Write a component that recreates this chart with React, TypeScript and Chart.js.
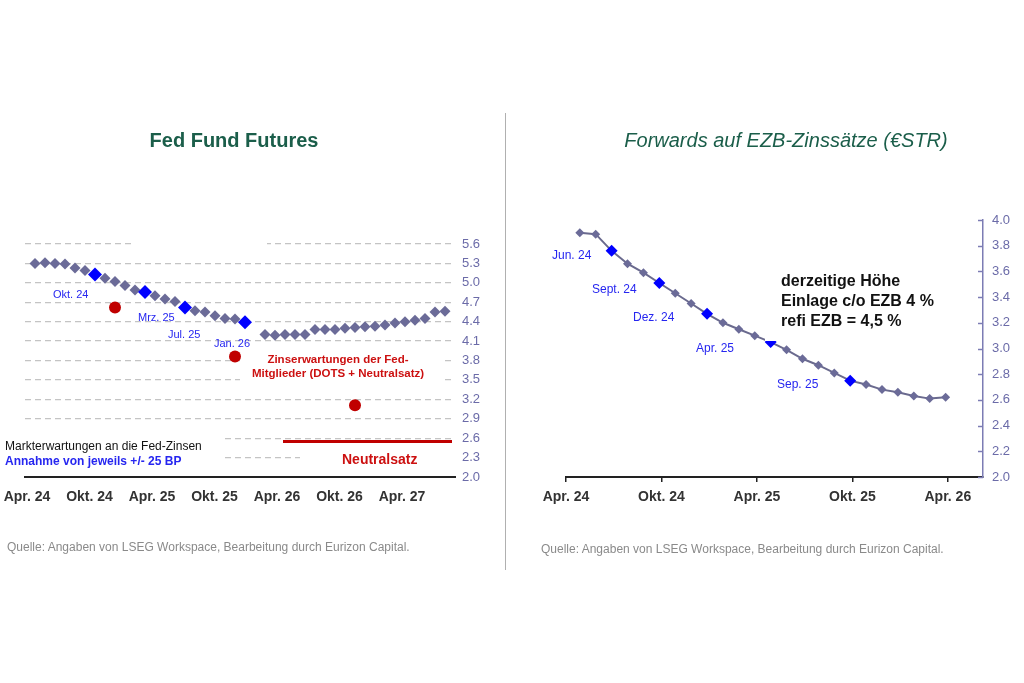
import React, { useEffect, useRef } from "react";
import { Chart, registerables } from "chart.js";
Chart.register(...registerables);

const FONT = 'Arial, "Liberation Sans", Helvetica, sans-serif';
Chart.defaults.font.family = FONT;

const GREEN = "#1b5e4a";
const BLUE = "#0000ff";
const LABEL_BLUE = "#2626f0";
const GRAY_PT = "#6b6b98";
const RED = "#c00000";
const AXIS_LBL = "#6b6ba8";

// ---------- Fed Fund Futures (left panel) ----------
const fedMonthLabels = [
  "Apr. 24", "Mai 24", "Jun. 24", "Jul. 24", "Aug. 24", "Sep. 24", "Okt. 24", "Nov. 24", "Dez. 24",
  "Jan. 25", "Feb. 25", "Mrz. 25", "Apr. 25", "Mai 25", "Jun. 25", "Jul. 25", "Aug. 25", "Sep. 25",
  "Okt. 25", "Nov. 25", "Dez. 25", "Jan. 26", "Feb. 26", "Mrz. 26", "Apr. 26", "Mai 26", "Jun. 26",
  "Jul. 26", "Aug. 26", "Sep. 26", "Okt. 26", "Nov. 26", "Dez. 26", "Jan. 27", "Feb. 27", "Mrz. 27",
  "Apr. 27", "Mai 27", "Jun. 27", "Jul. 27", "Aug. 27", "Sep. 27",
];
const fedFutures = [
  5.30, 5.31, 5.30, 5.29, 5.23, 5.19, 5.13, 5.07, 5.02, 4.96, 4.89, 4.86, 4.80, 4.75, 4.71, 4.62,
  4.57, 4.55, 4.49, 4.45, 4.44, 4.39, null, 4.20, 4.19, 4.20, 4.20, 4.20, 4.28, 4.28, 4.28, 4.30,
  4.31, 4.32, 4.33, 4.35, 4.38, 4.40, 4.42, 4.45, 4.55, 4.56,
];
const fedHighlightIdx = [6, 11, 15, 21];
const fedDotIdx = [8, 20, 32];
const fedDotValues = [4.62, 3.86, 3.11];
const fedNeutralValue = 2.55;
const fedNeutralRange = [24.8, 41.7];
const fedTickMonths = [0, 6, 12, 18, 24, 30, 36];
const fedTickLabels = ["Apr. 24", "Okt. 24", "Apr. 25", "Okt. 25", "Apr. 26", "Okt. 26", "Apr. 27"];

// ---------- Forwards auf EZB-Zinssätze (right panel) ----------
const ezbMonthLabels = [
  "Apr. 24", "Mai 24", "Jun. 24", "Jul. 24", "Aug. 24", "Sep. 24", "Okt. 24", "Nov. 24", "Dez. 24",
  "Jan. 25", "Feb. 25", "Mrz. 25", "Apr. 25", "Mai 25", "Jun. 25", "Jul. 25", "Aug. 25", "Sep. 25",
  "Okt. 25", "Nov. 25", "Dez. 25", "Jan. 26", "Feb. 26", "Mrz. 26",
];
const ezbForwards = [
  3.90, 3.89, 3.76, 3.66, 3.59, 3.51, 3.43, 3.35, 3.27, 3.20, 3.15, 3.10, 3.05, 2.99, 2.92, 2.87,
  2.81, 2.75, 2.72, 2.68, 2.66, 2.63, 2.61, 2.62,
];
const ezbHighlightIdx = [2, 5, 8, 12, 17];
const ezbTickMonths = [0, 6, 12, 18, 24];
const ezbTickLabels = ["Apr. 24", "Okt. 24", "Apr. 25", "Okt. 25", "Apr. 26"];

function FedChart() {
  const ref = useRef<HTMLCanvasElement>(null);
  useEffect(() => {
    const masks = {
      id: "masks",
      beforeDatasetsDraw(chart: any) {
        const ctx = chart.ctx;
        ctx.save();
        ctx.fillStyle = "#ffffff";
        ctx.fillRect(134, 236, 133, 16);
        ctx.fillRect(240, 348, 202, 45);
        ctx.fillRect(0, 428, 225, 42);
        ctx.fillRect(300, 448, 155, 22);
        ctx.restore();
      },
    };
    const chart = new Chart(ref.current!, {
      type: "line",
      data: {
        datasets: [
          {
            label: "highlight",
            data: fedHighlightIdx.map((i) => ({ x: i, y: fedFutures[i] })),
            showLine: false,
            pointStyle: "rectRot",
            pointRadius: 7,
            pointBackgroundColor: BLUE,
            pointBorderWidth: 0,
            xAxisID: "x",
            yAxisID: "y",
          },
          {
            label: "futures",
            data: fedMonthLabels.map((_, i) => ({ x: i, y: fedFutures[i] })),
            showLine: false,
            pointStyle: "rectRot",
            pointRadius: 5.5,
            pointBackgroundColor: GRAY_PT,
            pointBorderWidth: 0,
            xAxisID: "x",
            yAxisID: "y",
          },
          {
            label: "dots",
            data: fedDotIdx.map((m, k) => ({ x: m, y: fedDotValues[k] })),
            showLine: false,
            pointStyle: "circle",
            pointRadius: 6,
            pointBackgroundColor: RED,
            pointBorderWidth: 0,
            xAxisID: "x",
            yAxisID: "y",
          },
          {
            label: "neutral",
            data: fedNeutralRange.map((x) => ({ x, y: fedNeutralValue })),
            borderColor: RED,
            borderWidth: 3,
            pointRadius: 0,
            xAxisID: "x",
            yAxisID: "y",
          },
        ],
      },
      options: {
        responsive: false,
        animation: false,
        events: [],
        layout: { padding: { left: 25, right: 10, top: 244, bottom: 176 } },
        plugins: { legend: { display: false }, tooltip: { enabled: false } },
        scales: {
          x: { type: "linear", min: -1, max: 42, display: false },
          xl: {
            type: "linear",
            position: "bottom",
            min: -0.19,
            max: 41.09,
            grid: { drawOnChartArea: false, drawTicks: false },
            border: { display: true, color: "#222222", width: 2 },
            ticks: {
              autoSkip: false,
              maxRotation: 0,
              padding: 12,
              color: "#333333",
              font: { size: 14, weight: "bold" },
              callback: (_v: any, i: number) => fedTickLabels[i],
            },
            afterBuildTicks: (ax: any) => {
              ax.ticks = fedTickMonths.map((v) => ({ value: v }));
            },
            afterFit: (ax: any) => {
              ax.height = 30;
              ax.paddingLeft = 0;
              ax.paddingRight = 0;
            },
          },
          y: {
            type: "linear",
            position: "right",
            min: 2,
            max: 5.6,
            grid: { color: "#c4c4c4", lineWidth: 1.3, drawTicks: false },
            border: { display: false, dash: [6, 4] },
            ticks: {
              stepSize: 0.3,
              padding: 7,
              color: AXIS_LBL,
              font: { size: 13 },
              callback: (v: any) => Number(v).toFixed(1),
            },
            afterFit: (ax: any) => {
              ax.width = 40;
            },
          },
        },
      } as any,
      plugins: [masks],
    });
    return () => chart.destroy();
  }, []);
  return (
    <canvas
      ref={ref}
      width={505}
      height={683}
      style={{ position: "absolute", left: 0, top: 0, width: 505, height: 683 }}
    />
  );
}

function EzbChart() {
  const ref = useRef<HTMLCanvasElement>(null);
  useEffect(() => {
    const extras = {
      id: "extras",
      afterDatasetsDraw(chart: any) {
        const ctx = chart.ctx;
        ctx.save();
        ctx.fillStyle = "#ffffff";
        ctx.fillRect(260, 262, 190, 79);
        ctx.restore();
      },
      afterDraw(chart: any) {
        const s = chart.scales.y;
        const right = chart.chartArea.right;
        const ctx = chart.ctx;
        ctx.save();
        ctx.strokeStyle = "#7c7cb4";
        ctx.lineWidth = 1.5;
        s.ticks.forEach((t: any) => {
          const py = Math.round(s.getPixelForValue(t.value)) + 0.5;
          ctx.beginPath();
          ctx.moveTo(right - 5, py);
          ctx.lineTo(right, py);
          ctx.stroke();
        });
        ctx.restore();
      },
    };
    const chart = new Chart(ref.current!, {
      type: "line",
      data: {
        datasets: [
          {
            label: "highlight",
            data: ezbHighlightIdx.map((i) => ({ x: i, y: ezbForwards[i] })),
            showLine: false,
            pointStyle: "rectRot",
            pointRadius: 6,
            pointBackgroundColor: BLUE,
            pointBorderWidth: 0,
            xAxisID: "x",
            yAxisID: "y",
          },
          {
            label: "forwards",
            data: ezbMonthLabels.map((_, i) => ({ x: i, y: ezbForwards[i] })),
            borderColor: "#6a6a8e",
            borderWidth: 2,
            pointStyle: "rectRot",
            pointRadius: 4.5,
            pointBackgroundColor: GRAY_PT,
            pointBorderWidth: 0,
            xAxisID: "x",
            yAxisID: "y",
          },
        ],
      },
      options: {
        responsive: false,
        animation: false,
        events: [],
        layout: { padding: { left: 61, right: 6, top: 220, bottom: 176 } },
        plugins: { legend: { display: false }, tooltip: { enabled: false } },
        scales: {
          x: { type: "linear", min: -0.867, max: 25.35, display: false },
          xl: {
            type: "linear",
            position: "bottom",
            min: 0,
            max: 26.21,
            grid: {
              drawOnChartArea: false,
              drawTicks: true,
              tickLength: 5,
              color: "#222222",
              lineWidth: 1.5,
            },
            border: { display: true, color: "#222222", width: 2 },
            ticks: {
              autoSkip: false,
              maxRotation: 0,
              padding: 7,
              color: "#333333",
              font: { size: 14, weight: "bold" },
              callback: (_v: any, i: number) => ezbTickLabels[i],
            },
            afterBuildTicks: (ax: any) => {
              ax.ticks = ezbTickMonths.map((v) => ({ value: v }));
            },
            afterFit: (ax: any) => {
              ax.height = 30;
              ax.paddingLeft = 0;
              ax.paddingRight = 0;
            },
          },
          y: {
            type: "linear",
            position: "right",
            min: 2,
            max: 4,
            grid: { drawOnChartArea: false, drawTicks: false },
            border: { display: true, color: "#7c7cb4", width: 1.5 },
            ticks: {
              stepSize: 0.2,
              padding: 9,
              color: AXIS_LBL,
              font: { size: 13 },
              callback: (v: any) => Number(v).toFixed(1),
            },
            afterFit: (ax: any) => {
              ax.width = 35;
            },
          },
        },
      } as any,
      plugins: [extras],
    });
    return () => chart.destroy();
  }, []);
  return (
    <canvas
      ref={ref}
      width={519}
      height={683}
      style={{ position: "absolute", left: 505, top: 0, width: 519, height: 683 }}
    />
  );
}

type TxtProps = {
  x: number;
  y: number;
  text: string;
  size: number;
  color: string;
  bold?: boolean;
  italic?: boolean;
  center?: boolean;
};

function Txt({ x, y, text, size, color, bold, italic, center }: TxtProps) {
  return (
    <div
      style={{
        position: "absolute",
        left: x,
        top: y - size / 2,
        fontFamily: FONT,
        fontSize: size,
        lineHeight: `${size}px`,
        fontWeight: bold ? "bold" : "normal",
        fontStyle: italic ? "italic" : "normal",
        color,
        whiteSpace: "nowrap",
        transform: center ? "translateX(-50%)" : undefined,
        pointerEvents: "none",
      }}
    >
      {text}
    </div>
  );
}

export default function App() {
  return (
    <div
      style={{
        position: "absolute",
        left: 0,
        top: 0,
        width: 1024,
        height: 683,
        background: "#ffffff",
        overflow: "hidden",
      }}
    >
      <FedChart />
      <EzbChart />
      <div
        style={{ position: "absolute", left: 505, top: 113, width: 1, height: 457, background: "#b0b0b0" }}
      />
      {/* Left panel texts */}
      <Txt x={234} y={140} text="Fed Fund Futures" size={20} color={GREEN} bold center />
      <Txt x={53} y={294} text="Okt. 24" size={11} color={LABEL_BLUE} />
      <Txt x={138} y={317} text="Mrz. 25" size={11} color={LABEL_BLUE} />
      <Txt x={168} y={334} text="Jul. 25" size={11} color={LABEL_BLUE} />
      <Txt x={214} y={343} text="Jan. 26" size={11} color={LABEL_BLUE} />
      <Txt x={338} y={360} text="Zinserwartungen der Fed-" size={11.5} color="#cc1010" bold center />
      <Txt x={338} y={374} text="Mitglieder (DOTS + Neutralsatz)" size={11.5} color="#cc1010" bold center />
      <Txt x={5} y={446} text="Markterwartungen an die Fed-Zinsen" size={12} color="#111111" />
      <Txt x={5} y={461} text="Annahme von jeweils +/- 25 BP" size={12} color={LABEL_BLUE} bold />
      <Txt x={342} y={459} text="Neutralsatz" size={14} color="#cc1010" bold />
      <Txt
        x={7}
        y={547}
        text="Quelle: Angaben von LSEG Workspace, Bearbeitung durch Eurizon Capital."
        size={12}
        color="#8a8a8a"
      />
      {/* Right panel texts */}
      <Txt x={786} y={140} text="Forwards auf EZB-Zinssätze (€STR)" size={20} color={GREEN} italic center />
      <Txt x={552} y={255} text="Jun. 24" size={12} color={LABEL_BLUE} />
      <Txt x={592} y={289} text="Sept. 24" size={12} color={LABEL_BLUE} />
      <Txt x={633} y={317} text="Dez. 24" size={12} color={LABEL_BLUE} />
      <Txt x={696} y={348} text="Apr. 25" size={12} color={LABEL_BLUE} />
      <Txt x={777} y={384} text="Sep. 25" size={12} color={LABEL_BLUE} />
      <Txt x={781} y={281} text="derzeitige Höhe" size={16} color="#111111" bold />
      <Txt x={781} y={301} text="Einlage c/o EZB 4 %" size={16} color="#111111" bold />
      <Txt x={781} y={321} text="refi EZB = 4,5 %" size={16} color="#111111" bold />
      <Txt
        x={541}
        y={549}
        text="Quelle: Angaben von LSEG Workspace, Bearbeitung durch Eurizon Capital."
        size={12}
        color="#8a8a8a"
      />
    </div>
  );
}
